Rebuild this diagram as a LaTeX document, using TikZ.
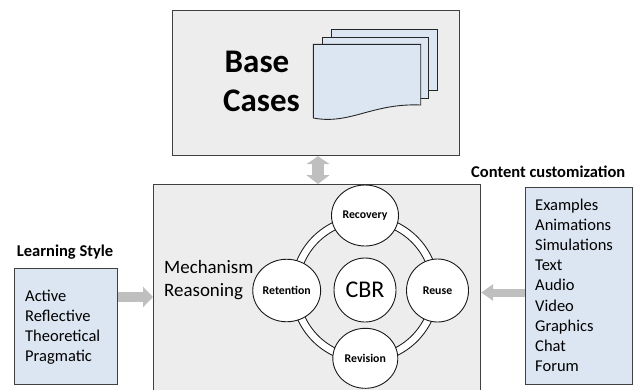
\documentclass[tikz,border=0pt]{standalone}
\usepackage{fontspec}
\setmainfont{Carlito}
\usetikzlibrary{shapes.geometric,arrows.meta}
\definecolor{boxgray}{HTML}{EDEDED}
\definecolor{lblue}{HTML}{DCE6F2}
\definecolor{arrgray}{HTML}{BFBFBF}
\definecolor{edgegray}{HTML}{404040}
\begin{document}
\begin{tikzpicture}[x=1pt,y=-1pt,
  graybox/.style={draw=edgegray, fill=boxgray, line width=1.2pt, inner sep=0pt, anchor=north west},
  bluebox/.style={draw=edgegray, fill=lblue, line width=1.2pt, inner sep=0pt, anchor=north west},
  pagestyle/.style={draw=black!85, fill=lblue, line width=0.9pt},
  stage/.style={ellipse, draw=black!90, fill=white, line width=0.9pt, inner sep=0pt,
    font=\bfseries\fontsize{11.8}{14}\selectfont},
  listtext/.style={anchor=base west, inner sep=0pt, font=\fontsize{16.5}{20}\selectfont},
  headtext/.style={anchor=base west, inner sep=0pt, font=\bfseries\fontsize{16.5}{20}\selectfont},
  bigtext/.style={anchor=base west, inner sep=0pt, font=\bfseries\fontsize{33}{39}\selectfont},
  mechtext/.style={anchor=base west, inner sep=0pt, font=\fontsize{18.9}{23}\selectfont},
  blockarrow/.style={draw=none, arrgray, line width=#1},
]
\useasboundingbox (0,0) rectangle (636,389);
% boxes
\node[graybox, minimum width=287pt, minimum height=145.5pt] (top) at (172,9.5) {};
\node[graybox, minimum width=327pt, minimum height=216pt] (main) at (153,184) {};
\node[bluebox, minimum width=103pt, minimum height=116pt] (lbox) at (14,268) {};
\node[bluebox, minimum width=107pt, minimum height=197pt] (rbox) at (525,187) {};
% document stack
\draw[pagestyle] (331,29) rectangle (437,90);
\draw[pagestyle] (322,37) rectangle (428,98);
\draw[pagestyle] (313.3,44.3) -- (420.7,44.3) -- (420.7,105)
  .. controls (372,103) and (350,125) .. (313.3,118) -- cycle;
% Base Cases
\node[bigtext] (base) at (224.5,72.7) {Base};
\node[bigtext] (cases) at (223,111.7) {Cases};
% connectors
\coordinate (dx) at (318,0);
\draw[arrgray, line width=12pt, {Triangle[length=8pt,width=23pt]}-{Triangle[length=9pt,width=23pt]}]
  (top.south -| dx) -- (main.north -| dx);
\coordinate (la) at (0,297);
\draw[arrgray, line width=10pt, -{Triangle[length=10pt,width=20pt]}]
  (lbox.east |- la) -- (main.west |- la);
\coordinate (ra) at (0,292.5);
\draw[arrgray, line width=8pt, -{Triangle[length=12pt,width=16pt]}]
  (rbox.west |- ra) -- (main.east |- ra);
% ring
\coordinate (rc) at (365,289);
\draw[black!90, line width=8.6pt] (rc) circle[radius=70pt];
\draw[white, line width=6.6pt] (rc) circle[radius=70pt];
% stages
\node[stage, minimum width=67pt, minimum height=61pt] (recovery) at (365,215.5) {Recovery};
\node[stage, minimum width=63pt, minimum height=62.5pt] (retention) at (286.7,290.5) {Retention};
\node[ellipse, draw=black!90, fill=white, line width=0.9pt, inner sep=0pt,
  minimum width=62pt, minimum height=64pt, font=\fontsize{24}{28}\selectfont] (cbr) at (365,290) {CBR};
\node[stage, minimum width=62pt, minimum height=63pt] (reuse) at (437.5,290.5) {Reuse};
\node[stage, minimum width=65pt, minimum height=60pt] (revision) at (365.3,358.3) {Revision};
% mechanism text
\node[mechtext] (mech1) at (164,273) {Mechanism};
\node[mechtext] (mech2) at (164,296.7) {Reasoning};
% learning style
\node[headtext] (lshead) at (16.7,256.7) {Learning Style};
\foreach \t [count=\i from 0] in {Active,Reflective,Theoretical,Pragmatic}
  \node[listtext] (ls\i) at (25,301.7+20*\i) {\t};
% content customization
\node[headtext] (cchead) at (471,177) {Content customization};
\foreach \t [count=\i from 0] in {Examples,Animations,Simulations,Text,Audio,Video,Graphics,Chat,Forum}
  \node[listtext] (cc\i) at (535,210+20.2*\i) {\t};
\end{tikzpicture}
\end{document}
